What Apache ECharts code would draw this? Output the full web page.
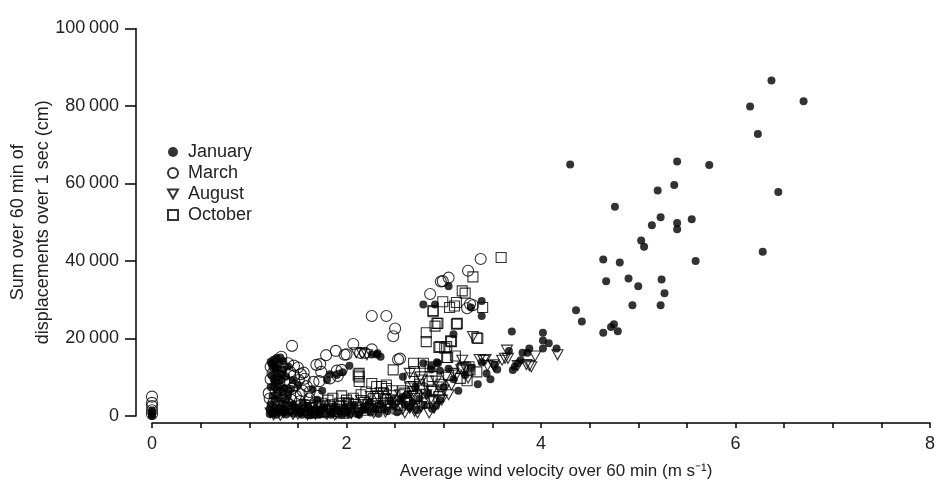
<!DOCTYPE html>
<html>
<head>
<meta charset="utf-8">
<script src="https://cdn.jsdelivr.net/npm/echarts@6/dist/echarts.min.js"></script>
<style>
  html, body { margin: 0; padding: 0; background: #fff; }
  #main { width: 945px; height: 482px; }
</style>
</head>
<body>
<div id="main"></div>
<script>
// wind velocity (m/s) vs summed displacement (cm), one list per month
var seriesNames = ['January', 'March', 'August', 'October'];

var january = [
    [0,1500],[0,800],[0,300],[0,0],
    [1.22,14000],[1.25,14500],[1.28,15000],[1.32,15100],[1.35,14200],[1.30,13200],[1.24,12500],[1.27,11800],
    [1.35,11900],[1.40,12800],[1.23,10500],[1.30,10000],[1.26,8800],[1.33,9300],[1.22,7500],[1.28,6800],
    [1.36,7200],[1.24,5200],[1.31,4800],[1.40,5600],[1.45,9200],[1.50,8000],[1.22,3000],[1.27,2200],[1.34,3200],
    [1.23,13500],[1.26,13000],[1.29,12200],[1.33,10800],[1.38,10200],[1.25,9600],[1.29,7800],[1.34,6200],
    [1.26,4000],[1.38,4200],[1.43,7000],
    [1.21,500],[1.25,1200],[1.28,300],[1.32,900],[1.35,1800],[1.38,400],[1.42,1100],[1.46,600],[1.50,1500],
    [1.54,300],[1.58,900],[1.62,1300],[1.66,500],[1.70,1000],[1.74,1700],[1.78,400],[1.82,1200],[1.86,700],
    [1.90,1500],[1.95,300],[2.00,1000],[2.05,2000],[2.10,600],[2.15,1400],[2.20,2500],[2.25,900],[2.30,1800],
    [2.35,3000],[2.42,1200],[2.48,2600],[2.55,4100],[2.60,3000],[2.65,2200],[2.72,1500],[2.80,2800],[2.88,1900],
    [1.21,1800],[1.24,600],[1.30,1900],[1.36,1000],[1.41,2500],[1.48,2200],[1.52,700],[1.57,1900],[1.63,200],
    [1.68,1800],[1.72,300],[1.77,2200],[1.84,300],[1.88,2400],[1.93,1100],[1.98,2200],[2.03,400],[2.08,2800],
    [2.13,300],[2.18,1600],[2.23,3500],[2.28,2200],[2.33,600],[2.38,2000],[2.45,3800],[2.52,1000],[2.62,5500],
    [2.68,3600],[2.75,4500],[2.84,5800],[2.92,2600],[3.00,7500],[3.10,9500],[3.15,6500],[3.22,10500],
    [3.28,12500],[3.48,9500],[3.55,12000],
    [1.55,3500],[1.60,2600],[1.45,3000],[1.70,4200],[1.65,6900],[1.75,6500],[1.80,9300],[1.83,10800],
    [1.90,10600],[1.96,11300],[2.03,13000],[2.26,15900],[2.31,15900],[2.35,15300],[2.32,16200],
    [2.58,10100],[2.58,5000],[2.71,7600],[2.79,13600],[2.87,12000],[2.87,12900],[2.93,13900],[2.94,13600],
    [2.96,11700],[3.05,12200],[2.96,4100],[3.35,8200],[3.39,13900],[3.44,11000],[3.52,13300],
    [2.79,28800],[2.91,28800],[3.05,33500],[3.28,28000],[3.39,29700],[3.39,25800],[3.10,21100],
    [3.70,21800],[4.02,21500],[4.02,19500],[4.08,18800],[4.02,17400],[4.16,17400],[3.88,17400],[3.67,16800],
    [3.81,16300],[3.86,16300],[3.79,14400],[3.76,13600],[3.73,12700],[3.71,11900],
    [4.30,64900],[4.36,27300],[4.42,24400],[4.64,40400],[4.64,21500],[4.67,34800],[4.72,23000],[4.75,23700],
    [4.76,54000],[4.79,21900],[4.81,39600],[4.90,35500],[4.94,28600],[5.00,33500],[5.03,45300],[5.06,43700],
    [5.14,49200],[5.20,58200],[5.23,51300],[5.23,28600],[5.24,35200],[5.27,31700],[5.37,59600],[5.40,65700],
    [5.40,49800],[5.40,48200],[5.55,50800],[5.59,40000],[5.73,64800],[6.15,79900],[6.23,72800],[6.28,42400],
    [6.37,86600],[6.44,57800],[6.70,81200]
];

var march = [
    [0,5000],[0,3400],[0,2600],[0,1500],[0,500],
    [1.44,18100],[1.33,15300],[1.40,13600],[1.22,12700],[1.22,9500],[1.32,11400],[1.42,11400],[1.51,9300],
    [1.56,11200],[1.59,7700],[1.44,7100],[1.33,5900],[1.20,5900],[1.73,13400],[1.74,11400],[1.72,9000],
    [1.79,15700],[1.89,16800],[1.91,10300],[1.90,11700],[2.00,15900],[2.07,18600],[2.14,16300],[2.19,16300],
    [2.26,17200],[2.26,25800],[2.41,25800],[2.50,22600],[2.48,20600],[2.53,14600],[2.55,14800],[1.95,11900],
    [1.69,13200],[1.83,9700],[1.98,15800],
    [2.86,31500],[2.97,34700],[3.05,35700],[3.25,37500],[3.24,27800],[3.38,40500],[2.99,34800],[3.30,28600],
    [3.27,28900],
    [1.25,3500],[1.30,2500],[1.35,4000],[1.38,6500],[1.42,8500],[1.48,5200],[1.52,3800],[1.46,10500],
    [1.36,9000],[1.28,8000],[1.55,6500],[1.62,4500],[1.68,3500],[1.50,12500],[1.40,3000],[1.58,2800],
    [1.25,1500],[1.45,1800],[1.65,2000],
    [1.21,4500],[1.27,6500],[1.31,7200],[1.37,5000],[1.43,4200],[1.47,7800],[1.53,5600],[1.57,9600],
    [1.62,6200],[1.66,8800],[1.70,5200],[1.24,11000],[1.34,12800],[1.29,9500],[1.46,13000],[1.53,10800]
];

var august = [
    [1.25,300],[1.35,800],[1.50,500],[1.65,1200],[1.80,400],[1.95,1600],[2.05,700],[2.20,2000],[2.30,3200],
    [2.40,1000],[2.45,4200],[2.50,2500],[2.55,5500],[2.60,800],[1.40,2200],[1.55,1800],[1.70,2600],[1.85,2900],
    [2.00,3400],[2.15,4000],[2.25,5000],[2.35,6000],[1.30,1500],[1.45,400],[1.60,300],[1.75,1800],[1.90,600],
    [2.10,1500],[2.28,800],[2.42,2600],[2.70,1200],[2.85,800],
    [1.22,800],[1.32,200],[1.42,1200],[1.52,1400],[1.58,700],[1.63,2200],[1.68,400],[1.73,900],[1.78,2800],
    [1.83,1500],[1.88,300],[1.93,2500],[1.98,800],[2.03,1800],[2.08,3000],[2.13,700],[2.18,3500],[2.23,1500],
    [2.33,4500],[2.38,2800],[2.48,5200],[2.52,3800],[2.58,1800],[2.62,3500],[2.68,5200],[2.73,800],[2.82,5500],
    [2.90,2000],[2.95,7500],[3.02,10000],[3.10,11000],[3.22,12500],
    [2.10,16300],[2.16,16100],[2.21,15800],
    [3.30,20500],[3.19,14400],[3.37,14600],[3.43,14600],[3.45,13000],[3.65,17000],[3.66,14900],[3.60,14400],
    [3.52,12700],[3.76,13000],[3.85,13300],[3.88,13000],[3.94,15500],[4.17,15800],[3.00,6700],[2.98,4100],
    [2.89,3700],[2.77,9300],[2.69,6300],[2.77,2400],[2.65,2400],[3.18,11900],[3.13,10600],[3.41,14300],
    [3.63,14900],[3.51,13200],[3.90,12700],[2.86,4100],[2.78,6700],[2.69,7600],[2.65,11000],[2.76,10100],
    [2.88,6300],[2.96,4100],[2.76,2400],[2.65,2000],[3.08,8000],[3.25,9800],[3.05,5500],[2.92,9000]
];

var october = [
    [3.59,40900],[3.30,35900],[3.19,32300],[3.22,31700],[2.99,29500],[2.89,27200],[3.13,29300],[3.06,28000],
    [3.11,28400],[3.40,28000],[2.94,23900],[2.91,23200],[3.13,23700],[2.82,21500],[2.82,19200],[3.07,19400],
    [3.34,20200],[2.95,17700],[3.01,17500],[2.48,11900],[2.69,13600],[2.79,13600],[2.86,12700],[3.03,15100],
    [3.20,12700],[3.26,12700],[3.34,11400],[3.17,9700],[3.24,9100],[2.89,6700],[2.66,7600],[2.60,5900],
    [2.41,8000],[2.38,5900],[2.89,26900],[2.93,23900],[3.14,23900],[3.08,19200],[3.35,20000],[2.96,17900],
    [3.03,17900],[3.04,15100],[3.19,12300],[3.27,11900],[2.13,11000],[2.13,10100],[2.12,10600],[2.13,8900],
    [2.26,8400],[2.31,7600],[2.36,7600],[2.41,7100],[1.97,700],[2.04,2000],[2.10,2400],[2.17,1500],[2.00,4100],
    [1.81,4100],[1.86,4600],[1.93,3300],[2.00,2400],[1.73,2400],[1.59,1500],[1.65,800],[1.78,1200],[1.88,1800],
    [2.22,3000],[2.28,4500],[2.35,2200],[2.45,3500],[2.52,1800],[2.58,6500],[2.62,4000],[2.72,5200],[2.80,3400],
    [2.84,9000],[2.75,8200],[2.95,5000],
    [1.62,2800],[1.70,1000],[1.75,3300],[1.83,2500],[1.90,1200],[1.95,5200],[2.02,3200],[2.07,4600],[2.15,5500],
    [2.20,6200],[2.25,2400],[2.32,5200],[2.40,4300],[2.47,6500],[2.55,2800],[2.65,9800],[2.70,4500],[2.78,7200],
    [2.88,10200],[2.97,8200],[3.05,10500],[3.12,15500],[2.70,11500]
];

var xTicks = [0, 2, 4, 6, 8];
var yTicks = [0, 20000, 40000, 60000, 80000, 100000];

var fontFamily = '"Liberation Sans Narrow", "Liberation Sans", Arial, sans-serif';
var textColor = '#222';
var hollow = { color: 'rgba(0,0,0,0)', borderColor: '#000', borderWidth: 1.1 };
var downTriangle = 'path://M0,0L20,0L10,18Z';

var myChart = echarts.init(document.getElementById('main'));

var option = {
    backgroundColor: '#fff',
    animation: false,
    textStyle: { fontFamily: fontFamily },
    grid: { left: 152, right: 15, top: 28.5, bottom: 66, outerBoundsMode: 'none', containLabel: false },
    legend: {
        orient: 'vertical',
        left: 167,
        top: 143,
        padding: 0,
        itemWidth: 10,
        itemHeight: 10,
        itemGap: 3,
        textStyle: { fontSize: 18, color: textColor, lineHeight: 17, padding: [0, 0, 0, 5], fontFamily: fontFamily },
        data: [
            { name: 'January', icon: 'circle', itemStyle: { color: '#000', borderWidth: 0 } },
            { name: 'March', icon: 'circle' },
            { name: 'August', icon: downTriangle },
            { name: 'October', icon: 'rect' }
        ]
    },
    xAxis: {
        type: 'value',
        min: xTicks[0],
        max: xTicks[xTicks.length - 1],
        interval: 2,
        offset: 7,
        name: 'Average wind velocity over 60 min (m s\u207B\u00B9)',
        nameLocation: 'middle',
        nameGap: 40,
        nameTextStyle: { fontSize: 17, color: textColor, fontFamily: fontFamily, padding: [0, 0, 0, 30] },
        axisLine: { onZero: false, lineStyle: { color: '#000', width: 1.5 } },
        axisTick: { length: 5, lineStyle: { color: '#000', width: 1.5 } },
        minorTick: { show: true, splitNumber: 4, length: 5, lineStyle: { color: '#000', width: 1.5 } },
        axisLabel: { fontSize: 18, color: textColor, margin: 12 },
        splitLine: { show: false }
    },
    yAxis: {
        type: 'value',
        min: yTicks[0],
        max: yTicks[yTicks.length - 1],
        interval: 20000,
        offset: 16,
        name: 'Sum over 60 min of\ndisplacements over 1 sec (cm)',
        nameLocation: 'middle',
        nameRotate: 90,
        nameGap: 80,
        nameMoveOverlap: false,
        nameTextStyle: { fontSize: 18, color: textColor, lineHeight: 25, fontFamily: fontFamily },
        axisLine: { show: true, onZero: false, lineStyle: { color: '#000', width: 1.5 } },
        axisTick: { show: true, length: 11, lineStyle: { color: '#000', width: 1.5 } },
        axisLabel: {
            fontSize: 18, color: textColor, margin: 17,
            formatter: function (v) {
                return String(v).replace(/\B(?=(\d{3})+(?!\d))/g, '\u2009');
            }
        },
        splitLine: { show: false }
    },
    series: [
        {
            name: 'January', type: 'scatter', data: january,
            symbol: 'circle', symbolSize: 8,
            itemStyle: { color: '#000' }, z: 5
        },
        {
            name: 'March', type: 'scatter', data: march,
            symbol: 'circle', symbolSize: 11,
            itemStyle: hollow, z: 3
        },
        {
            name: 'August', type: 'scatter', data: august,
            symbol: downTriangle, symbolSize: [11, 10],
            itemStyle: hollow, z: 3
        },
        {
            name: 'October', type: 'scatter', data: october,
            symbol: 'rect', symbolSize: 10,
            itemStyle: hollow, z: 4
        }
    ]
};

myChart.setOption(option);
</script>
</body>
</html>
